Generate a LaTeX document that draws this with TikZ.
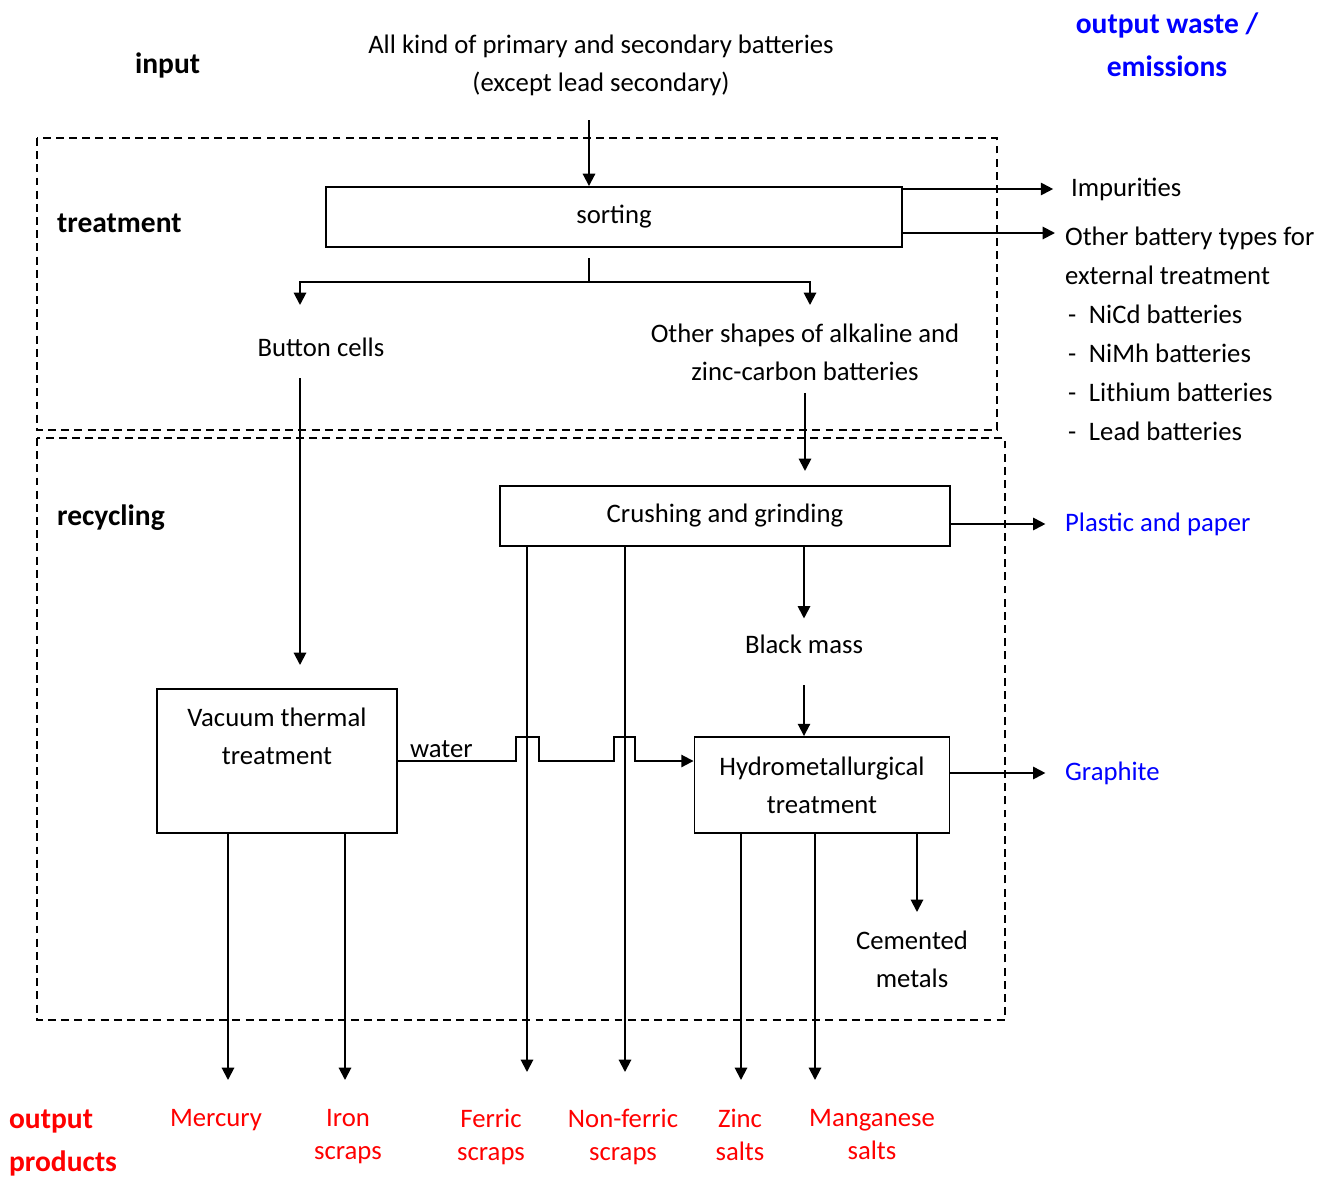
\documentclass[tikz,border=0pt]{standalone}
\usepackage{fontspec}
\setmainfont{Carlito}
\usetikzlibrary{arrows.meta,positioning,calc}
\definecolor{prodred}{RGB}{255,0,0}
\definecolor{wasteblue}{RGB}{0,0,255}
\newcommand{\dashitem}{\makebox[13.6pt][l]{\hspace{1.7pt}-}}

\begin{document}
\begin{tikzpicture}[x=0.02cm, y=-0.02cm,
  every node/.style={font=\fontsize{15.2}{21.5}\selectfont, inner sep=1pt},
  stepbox/.style={rectangle, draw, line width=1.1pt, align=center},
  region/.style={draw, line width=0.9pt, dash pattern=on 4.5pt off 3pt},
  head/.style={font=\fontsize{16.8}{24.4}\selectfont\bfseries, align=left},
  prod/.style={text=prodred, align=center, anchor=north, font=\fontsize{15.2}{18.7}\selectfont},
  waste/.style={text=wasteblue},
  arr/.style={-{Triangle[length=7pt,width=7pt]}, line width=1.1pt},
  link/.style={line width=1.1pt},
]
\useasboundingbox (0,0) rectangle (1330,1177);

% regions
\draw[region] (37,138) rectangle (997,430);
\draw[region] (37,438) rectangle (1005,1020);

% headings
\node[head, anchor=west] (inp) at (133,65) {input};
\node[head, anchor=west] (trt) at (55,223) {treatment};
\node[head, anchor=west] (rec) at (55,518) {recycling};
\node[head, text=prodred, anchor=west] (outp) at (7,1143) {output\\products};
\node[head, text=wasteblue, align=center] (outw) at (1167,45) {output waste /\\emissions};

% process steps
\node[align=center] (batt) at (601,65) {All kind of primary and secondary batteries\\(except lead secondary)};
\node[stepbox, minimum width=11.52cm, minimum height=1.2cm] (sort) at (614,217) {sorting};
\node (btn) at (321,347) {Button cells};
\node[align=center] (oth) at (805,352) {Other shapes of alkaline and\\zinc-carbon batteries};
\node[stepbox, minimum width=9cm, minimum height=1.2cm] (crush) at (725,516) {Crushing and grinding};
\node (blk) at (804,644) {Black mass};
\node[stepbox, minimum width=4.8cm, minimum height=2.88cm] (vac) at (277,761) {Vacuum thermal\\treatment\\\strut};
\node[stepbox, minimum width=5.1cm, minimum height=1.92cm] (hyd) at (822,785) {Hydrometallurgical\\treatment};
\node[align=center] (cem) at (912,959) {Cemented\\metals};

% waste / emissions
\node[anchor=west] (imp) at (1069,189) {Impurities};
\node[align=left, anchor=north west, font=\fontsize{15.2}{22.2}\selectfont] (ext) at (1063,225)
  {Other battery types for\\external treatment\\\dashitem NiCd batteries\\\dashitem NiMh batteries\\\dashitem Lithium batteries\\\dashitem Lead batteries};
\node[waste, anchor=west] (plas) at (1063,524) {Plastic and paper};
\node[waste, anchor=west] (graph) at (1063,773) {Graphite};

% products
\node[prod] (merc) at (216,1107) {Mercury};
\node[prod] (iron) at (348,1107) {Iron\\scraps};
\node[prod] (fer) at (491,1107) {Ferric\\scraps};
\node[prod] (nfer) at (623,1107) {Non-ferric\\scraps};
\node[prod] (zinc) at (740,1107) {Zinc\\salts};
\node[prod] (mang) at (872,1107) {Manganese\\salts};

% free ends
\coordinate (feed) at (589,120);
\coordinate (split) at (589,282);
\coordinate (btnIn) at (300,305);
\coordinate (othIn) at (810,305);
\coordinate (vacIn) at (300,665);
\coordinate (extIn) at (1055,233);
\coordinate (mercE) at (228,1080);
\coordinate (ironE) at (345,1080);
\coordinate (ferE) at (527,1072);
\coordinate (nferE) at (625,1072);
\coordinate (zincE) at (741,1080);
\coordinate (mangE) at (815,1080);
\coordinate (cemE) at (917,912);

% connectors
\draw[arr] (feed) -- (feed |- sort.north);
\draw[arr, shorten >=9pt] (sort.east |- imp.west) -- (imp.west);
\draw[arr] (sort.east |- extIn) -- (extIn);
\draw[link] (split) -- ++(0,-24);
\draw[arr] (split) -| (btnIn);
\draw[arr] (split) -| (othIn);
\draw[arr] (btnIn |- 0,378) -- (vacIn);
\draw[arr, shorten <=6pt, shorten >=8pt] (oth.south) -- (oth.south |- crush.north);
\draw[arr, shorten >=10pt] (crush.east |- plas.west) -- (plas.west);
\draw[arr, shorten >=8pt] (blk |- crush.south) -- (blk.north);
\draw[arr, shorten <=17pt] (blk.south) -- (blk |- hyd.north);
\draw[arr] (vac.east) -- ++(118,0) -- ++(0,-24) -- ++(23,0) -- ++(0,24)
  -- ++(75,0) -- ++(0,-24) -- ++(21,0) -- ++(0,24) -- (hyd.west |- vac.east);
\node[anchor=south west] (water) at (408,760) {water};
\draw[arr, shorten >=10pt] (hyd.east |- graph.west) -- (graph.west);
\draw[arr] (mercE |- vac.south) -- (mercE);
\draw[arr] (ironE |- vac.south) -- (ironE);
\draw[arr] (ferE |- crush.south) -- (ferE);
\draw[arr] (nferE |- crush.south) -- (nferE);
\draw[arr] (zincE |- hyd.south) -- (zincE);
\draw[arr] (mangE |- hyd.south) -- (mangE);
\draw[arr] (cemE |- hyd.south) -- (cemE);
\end{tikzpicture}
\end{document}
